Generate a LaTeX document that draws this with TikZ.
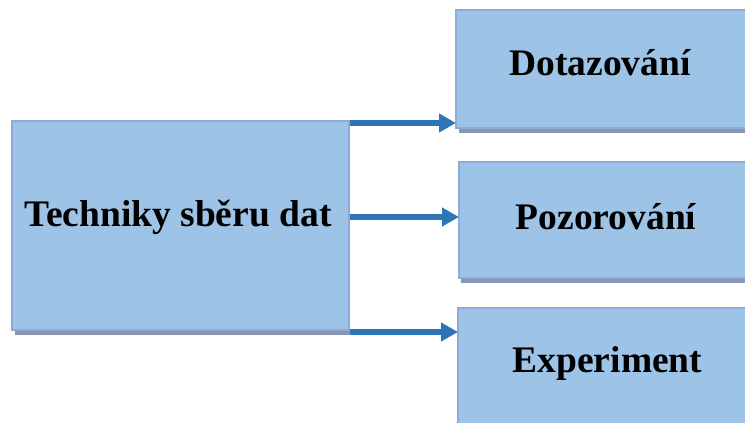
\documentclass[tikz,border=0pt]{standalone}
\usepackage{fontspec}
\setmainfont{Liberation Serif}
\usetikzlibrary{arrows.meta}
\definecolor{boxfill}{HTML}{9DC3E6}
\definecolor{boxline}{HTML}{8EAADB}
\definecolor{boxshadow}{HTML}{8797B0}
\definecolor{arrowcol}{HTML}{2E75B6}
\tikzset{
  box/.style={draw=boxline, line width=2pt, fill=boxfill, rectangle, inner sep=0pt},
  shadowbox/.style={fill=boxshadow},
  lbl/.style={font=\bfseries\fontsize{37.5}{40}\selectfont, anchor=base, inner sep=0pt},
  conn/.style={draw=arrowcol, line width=5.5pt, -{Triangle[length=17pt,width=18pt]}, shorten >=-1pt}
}
\begin{document}
\begin{tikzpicture}[x=1pt,y=-1pt]
\useasboundingbox (0,0) rectangle (745,423);
\clip (0,0) rectangle (745,423);
% shadows
\fill[shadowbox] (15,125) rectangle (350,335);
\fill[shadowbox] (459,14) rectangle (755,133);
\fill[shadowbox] (461,166) rectangle (755,283);
\fill[shadowbox] (461,312) rectangle (755,440);
% boxes
\node[box, minimum width=337pt, minimum height=209pt] (tech) at (180.5,225.5) {};
\node[box, minimum width=300pt, minimum height=118pt] (dot) at (606,69) {};
\node[box, minimum width=297pt, minimum height=116pt] (poz) at (607.5,220) {};
\node[box, minimum width=298pt, minimum height=118pt] (exp) at (607,367) {};
% labels
\node[lbl] (ttech) at (178,226) {Techniky sběru dat};
\node[lbl] (tdot) at (600,75) {Dotazování};
\node[lbl] (tpoz) at (606,229) {Pozorování};
\node[lbl] (texp) at (607.5,372) {Experiment};
% connectors
\draw[conn] (tech.east |- 0,123) -- (dot.west |- 0,123);
\draw[conn] (tech.east |- 0,217) -- (poz.west |- 0,217);
\draw[conn] (tech.east |- 0,332) -- (exp.west |- 0,332);
\end{tikzpicture}
\end{document}
